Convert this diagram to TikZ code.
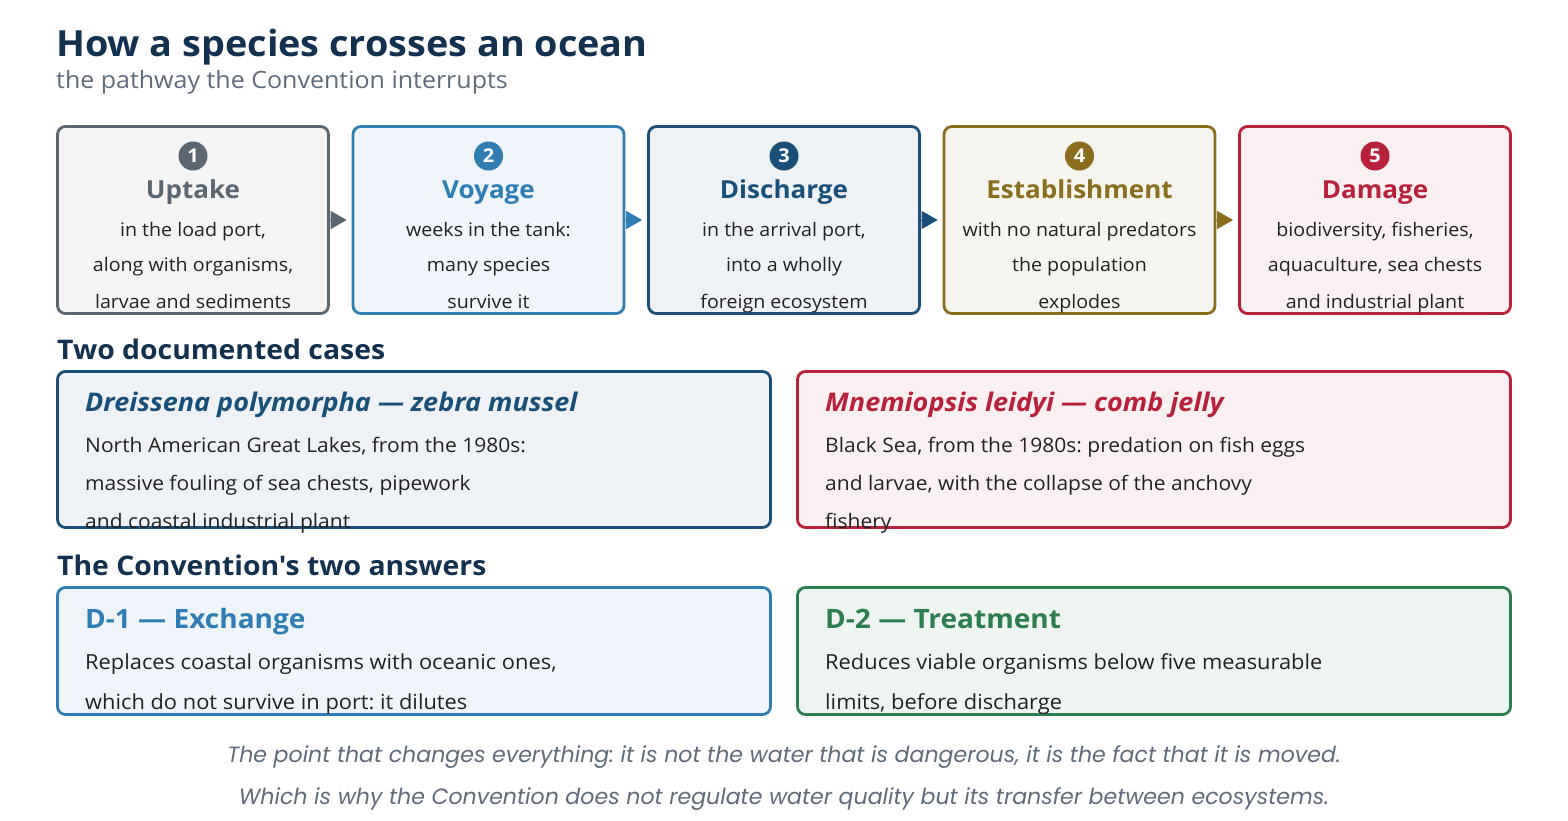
\documentclass[tikz,border=0pt]{standalone}
\usepackage{fontspec}
\setmainfont{Open Sans}[Ligatures=TeXOff, FakeStretch=1.05]
\newfontfamily\popfont{Poppins}
\usetikzlibrary{arrows.meta}
\frenchspacing
\definecolor{navy}{HTML}{12304F}
\definecolor{subgray}{HTML}{5F6B7A}
\definecolor{ink}{HTML}{222222}
\definecolor{cA}{HTML}{5C6670}\definecolor{fA}{HTML}{F4F4F5}
\definecolor{cB}{HTML}{2F7DB3}\definecolor{fB}{HTML}{EFF5FA}
\definecolor{cC}{HTML}{1A4F7A}\definecolor{fC}{HTML}{EEF2F6}
\definecolor{cD}{HTML}{8A6D1F}\definecolor{fD}{HTML}{F6F4EE}
\definecolor{cE}{HTML}{B7213A}\definecolor{fE}{HTML}{FAF0F2}
\definecolor{cG}{HTML}{2E7D4F}\definecolor{fG}{HTML}{EEF4EF}
\definecolor{fB2}{HTML}{EEF4FA}
\tikzset{
  card/.style={draw, line width=2.8pt, rounded corners=8pt, inner sep=0pt},
  stepbox/.style={card, minimum width=271pt, minimum height=187pt},
  casebox/.style={card, minimum width=713pt, minimum height=156pt},
  ansbox/.style={card, minimum width=713pt, minimum height=127pt},
  num/.style={circle, inner sep=0pt, minimum size=29pt, text=white, font=\bfseries\fontsize{19}{19}\selectfont},
  steptitle/.style={anchor=base, inner sep=0pt, font=\bfseries\fontsize{24.8}{28}\selectfont},
  body/.style={anchor=base, inner sep=0pt, text=ink, font=\fontsize{18.7}{22}\selectfont},
  cbody/.style={anchor=base west, inner sep=0pt, text=ink, font=\fontsize{20}{22}\selectfont},
  abody/.style={anchor=base west, inner sep=0pt, text=ink, font=\fontsize{20.8}{22}\selectfont},
  head/.style={anchor=base west, inner sep=0pt, text=navy, font=\bfseries\fontsize{27}{30}\selectfont},
  ctitle/.style={anchor=base west, inner sep=0pt, font=\bfseries\itshape\fontsize{25.7}{28}\selectfont},
  atitle/.style={anchor=base west, inner sep=0pt, font=\bfseries\fontsize{26.7}{30}\selectfont},
  note/.style={anchor=base, inner sep=0pt, text=subgray, font=\popfont\itshape\fontsize{22.1}{24}\selectfont},
  conn/.style={line width=1pt, -{Triangle[length=16pt,width=18pt]}, shorten >=5pt},
}
\newcommand\mysteplines[5]{%
  \node[body] (#1a) at (#2,236) {#3};
  \node[body] (#1b) at (#2,271) {#4};
  \node[body] (#1c) at (#2,308) {#5};}
\begin{document}
\begin{tikzpicture}[x=1pt,y=-1pt]
\useasboundingbox[fill=white] (0,0) rectangle (1568,820);
% title
\node[anchor=base west, inner sep=0pt, text=navy, font=\bfseries\fontsize{36}{40}\selectfont] (title) at (56,56) {How a species crosses an ocean};
\node[anchor=base west, inner sep=0pt, text=subgray, font=\fontsize{23.8}{26}\selectfont] (subtitle) at (56,88) {the pathway the Convention interrupts};
% steps
\node[stepbox, draw=cA, fill=fA] (s1) at (193,220) {};
\node[stepbox, draw=cB, fill=fB] (s2) at (488.5,220) {};
\node[stepbox, draw=cC, fill=fC] (s3) at (784,220) {};
\node[stepbox, draw=cD, fill=fD] (s4) at (1079.5,220) {};
\node[stepbox, draw=cE, fill=fE] (s5) at (1375,220) {};
\draw[conn, cA] (s1.east) -- (s2.west);
\draw[conn, cB] (s2.east) -- (s3.west);
\draw[conn, cC] (s3.east) -- (s4.west);
\draw[conn, cD] (s4.east) -- (s5.west);
\node[num, fill=cA] (n1) at (193,156) {1};
\node[num, fill=cB] (n2) at (488.5,156) {2};
\node[num, fill=cC] (n3) at (784,156) {3};
\node[num, fill=cD] (n4) at (1079.5,156) {4};
\node[num, fill=cE] (n5) at (1375,156) {5};
\node[steptitle, text=cA] (t1) at (193,198) {Uptake};
\node[steptitle, text=cB] (t2) at (488.5,198) {Voyage};
\node[steptitle, text=cC] (t3) at (784,198) {Discharge};
\node[steptitle, text=cD] (t4) at (1079.5,198) {Establishment};
\node[steptitle, text=cE] (t5) at (1375,198) {Damage};
\mysteplines{b1}{193}{in the load port,}{along with organisms,}{larvae and sediments}
\mysteplines{b2}{488.5}{weeks in the tank:}{many species}{survive it}
\mysteplines{b3}{784}{in the arrival port,}{into a wholly}{foreign ecosystem}
\mysteplines{b4}{1079.5}{with no natural predators}{the population}{explodes}
\mysteplines{b5}{1375}{biodiversity, fisheries,}{aquaculture, sea chests}{and industrial plant}
% cases
\node[head] (h1) at (57,359) {Two documented cases};
\node[casebox, draw=cC, fill=fC] (c1) at (414,449.5) {};
\node[casebox, draw=cE, fill=fE] (c2) at (1154,449.5) {};
\node[ctitle, text=cC] (ct1) at (85,411) {Dreissena polymorpha — zebra mussel};
\node[cbody] (c1a) at (85,452) {North American Great Lakes, from the 1980s:};
\node[cbody] (c1b) at (85,490) {massive fouling of sea chests, pipework};
\node[cbody] (c1c) at (85,528) {and coastal industrial plant};
\node[ctitle, text=cE] (ct2) at (825,411) {Mnemiopsis leidyi — comb jelly};
\node[cbody] (c2a) at (825,452) {Black Sea, from the 1980s: predation on fish eggs};
\node[cbody] (c2b) at (825,490) {and larvae, with the collapse of the anchovy};
\node[cbody] (c2c) at (825,528) {fishery};
% answers
\node[head] (h2) at (57,575) {The Convention's two answers};
\node[ansbox, draw=cB, fill=fB2] (a1) at (414,651) {};
\node[ansbox, draw=cG, fill=fG] (a2) at (1154,651) {};
\node[atitle, text=cB] (at1) at (85,628) {D-1 — Exchange};
\node[abody] (a1a) at (85,669) {Replaces coastal organisms with oceanic ones,};
\node[abody] (a1b) at (85,709) {which do not survive in port: it dilutes};
\node[atitle, text=cG] (at2) at (825,628) {D-2 — Treatment};
\node[abody] (a2a) at (825,669) {Reduces viable organisms below five measurable};
\node[abody] (a2b) at (825,709) {limits, before discharge};
% note
\node[note] (m1) at (784,762) {The point that changes everything: it is not the water that is dangerous, it is the fact that it is moved.};
\node[note] (m2) at (784,804) {Which is why the Convention does not regulate water quality but its transfer between ecosystems.};
\end{tikzpicture}
\end{document}
